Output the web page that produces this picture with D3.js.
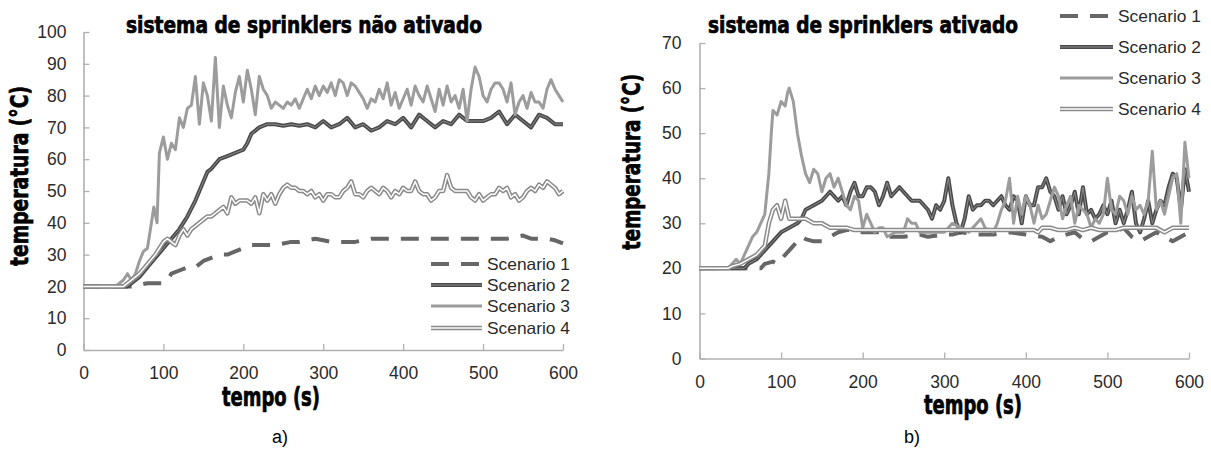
<!DOCTYPE html>
<html><head><meta charset="utf-8">
<script src="https://cdn.jsdelivr.net/npm/d3@7"></script>
<style>body{margin:0;background:#fff}</style>
</head><body>
<svg id="c" width="1211" height="450" xmlns="http://www.w3.org/2000/svg"></svg>
<script>
const xTicks = [0, 100, 200, 300, 400, 500, 600];
const yTicksA = [0, 10, 20, 30, 40, 50, 60, 70, 80, 90, 100];
const yTicksB = [0, 10, 20, 30, 40, 50, 60, 70];
const seriesNames = ["Scenario 1", "Scenario 2", "Scenario 3", "Scenario 4"];
const titleA = "sistema de sprinklers não ativado";
const titleB = "sistema de sprinklers ativado";
const yLabel = "temperatura (°C)";
const xLabel = "tempo (s)";
const panelLabels = ["a)", "b)"];

// Panel a) - sprinklers not activated: [time (s), temperature (°C)]
const a1 = [[0,20],[60,20],[70,20.5],[80,21],[100,21],[105,22],[110,24],[120,25],[130,26],[140,26],[150,28],[160,29],[170,30],[180,30],[190,31],[200,32],[210,33],[220,33],[230,33],[240,33],[250,33.5],[260,34],[270,34],[280,34.5],[290,35],[300,34.5],[310,34],[320,34],[330,34],[340,34],[350,34.5],[360,35],[400,35],[450,35],[500,35],[530,35],[540,35.5],[550,36],[560,35],[580,35],[590,34.5],[600,33.5]];
const a2 = [[0,20],[55,20],[60,21],[70,23],[80,26],[90,29],[100,32],[110,35],[120,38],[130,42],[140,47],[150,53],[155,56],[160,57],[170,60],[180,61],[190,62],[200,63],[205,65],[210,68],[220,70],[230,71],[240,71],[250,70.5],[260,71],[270,70.5],[280,71],[290,70],[300,72],[310,70],[320,71],[330,73],[340,70],[350,71],[360,69],[370,70],[380,72],[390,71],[400,73],[410,70],[420,74],[430,72],[440,70],[450,72],[460,71],[470,74],[480,72],[490,72],[500,72],[510,73],[520,75],[530,71],[540,74],[550,72],[560,70],[570,74],[580,73],[590,71],[600,71]];
const a3 = [[0,20],[40,20],[50,22],[55,24],[60,22],[65,24],[70,28],[75,31],[80,32],[85,40],[88,45],[92,40],[95,62],[100,67],[105,60],[110,65],[115,63],[120,73],[125,70],[130,76],[135,77],[140,86],[145,71],[150,84],[155,80],[160,72],[165,92],[170,70],[175,83],[180,77],[185,73],[190,81],[195,86],[200,78],[205,88],[210,82],[215,74],[220,86],[225,82],[230,80],[235,76],[240,78],[245,77],[250,76],[255,78],[260,77],[265,79],[270,76],[275,79],[280,82],[285,79],[290,83],[295,80],[300,83],[305,81],[310,84],[315,80],[320,85],[325,84],[330,80],[335,84],[340,83],[345,81],[350,79],[355,76],[360,79],[365,78],[370,82],[375,79],[380,84],[385,77],[390,81],[395,76],[400,79],[405,82],[410,77],[415,83],[420,80],[425,78],[430,83],[435,79],[440,75],[445,82],[450,77],[455,83],[460,78],[465,80],[470,76],[475,82],[480,72],[485,82],[490,89],[495,86],[500,80],[505,78],[510,82],[515,84],[520,84],[525,82],[530,78],[535,84],[540,74],[545,78],[550,80],[555,76],[560,81],[565,78],[570,78],[575,76],[580,82],[585,85],[590,82],[595,80],[600,78]];
const a4 = [[0,20],[50,20],[60,22],[70,24],[80,27],[90,30],[95,32],[100,34],[105,35],[110,34],[115,33],[120,36],[125,38],[130,36],[135,38],[140,39],[145,40],[150,41],[155,42],[160,42],[165,43],[170,44],[175,45],[180,43],[185,48],[190,46],[195,47],[200,47],[205,47],[210,46],[215,48],[220,43],[225,49],[230,47],[235,49],[240,46],[245,49],[250,51],[255,52],[260,51],[265,51],[270,50],[275,50],[280,49],[285,50],[290,48],[295,49],[300,47],[305,49],[310,49],[315,48],[320,48],[325,50],[330,51],[335,53],[340,49],[345,49],[350,48],[355,50],[360,51],[365,50],[370,49],[375,51],[380,50],[385,48],[390,50],[395,49],[400,51],[405,50],[410,50],[415,53],[420,50],[425,49],[430,49],[435,47],[440,48],[445,50],[450,50],[455,55],[460,51],[465,50],[470,50],[475,50],[480,50],[485,48],[490,47],[495,49],[500,47],[505,48],[510,49],[515,49],[520,51],[525,50],[530,51],[535,48],[540,49],[545,47],[550,48],[555,50],[560,51],[565,50],[570,52],[575,51],[580,53],[585,52],[590,51],[595,49],[600,50]];

// Panel b) - sprinklers activated
const b1 = [[0,20],[70,20],[75,20],[80,21],[90,21.5],[95,21],[100,22],[105,23],[110,24],[120,26],[125,27],[130,26.5],[140,26],[150,26],[160,27],[170,28],[180,28.5],[190,28.5],[200,28],[220,28],[230,27],[250,27],[270,27.5],[280,27],[300,27.5],[310,27.5],[320,28],[340,27.5],[360,27.5],[380,28],[400,27.5],[420,27],[430,26],[440,27],[460,28],[470,26.5],[480,26],[490,27],[500,28],[510,28],[520,29],[530,27],[540,26],[550,27],[560,28],[570,27],[580,26],[590,27],[600,28]];
const b2 = [[0,20],[55,20],[60,21],[70,22],[80,24],[90,26],[100,28],[110,29],[120,30],[125,31],[130,33],[140,34],[150,35],[155,36],[160,37],[165,36],[170,35],[175,36],[180,34],[185,37],[190,39],[195,36],[200,36],[205,38],[210,38],[215,37],[220,34],[225,36],[230,39],[235,36],[240,37],[245,38],[250,37],[255,36],[260,35],[265,35],[270,35],[275,34],[280,33],[285,31],[290,34],[295,33],[300,35],[305,40],[310,34],[315,30],[320,28],[325,31],[330,36],[335,33],[340,34],[345,34],[350,35],[355,35],[360,34],[365,35],[370,36],[375,34],[380,33],[385,36],[390,35],[395,30],[400,36],[405,34],[410,34],[415,38],[420,38],[425,40],[430,37],[435,36],[440,33],[445,36],[450,32],[455,34],[460,37],[465,32],[470,38],[475,32],[480,33],[485,31],[490,32],[495,34],[500,32],[505,35],[510,30],[515,33],[520,30],[525,33],[530,37],[535,30],[540,28],[545,31],[550,35],[555,30],[560,33],[565,35],[570,34],[575,38],[580,41],[585,40],[590,33],[595,42],[600,37]];
const b3 = [[0,20],[35,20],[40,21],[45,22],[50,21],[55,23],[60,25],[65,27],[70,28],[75,30],[80,32],[85,41],[88,50],[90,55],[95,54],[100,57],[105,56],[108,59],[110,60],[115,57],[120,50],[125,45],[130,41],[135,39],[140,42],[145,41],[150,37],[155,40],[160,41],[165,38],[170,40],[175,37],[180,34],[185,33],[190,36],[195,35],[200,29],[205,32],[210,30],[215,28],[220,29],[225,29],[230,27],[240,28],[250,28],[255,31],[260,30],[265,30],[270,28],[280,28],[300,28],[310,30],[320,29],[330,28],[340,30],[345,31],[350,29],[360,28],[365,30],[370,33],[375,35],[380,40],[385,30],[390,36],[395,32],[400,36],[405,34],[410,30],[415,34],[420,31],[425,32],[430,35],[435,38],[440,36],[445,31],[450,34],[455,36],[460,30],[465,34],[470,33],[475,32],[480,29],[485,31],[490,30],[495,32],[500,40],[505,33],[510,32],[515,36],[520,35],[525,32],[530,36],[535,33],[540,34],[545,32],[550,35],[555,46],[560,33],[565,35],[570,32],[575,36],[580,40],[585,41],[590,30],[595,48],[600,40]];
const b4 = [[0,20],[35,20],[40,20.5],[50,21],[60,22],[70,23],[80,25],[85,30],[90,33],[95,34],[100,31],[105,35],[110,31],[115,31],[120,31],[130,31],[140,30],[150,30],[160,29],[170,29],[180,29],[190,28.5],[200,28.5],[300,28.5],[410,28.5],[415,28],[420,29],[430,29],[440,28.5],[450,28.5],[460,29],[470,28.5],[480,29],[490,28.5],[510,28.5],[520,29],[560,29],[570,28],[580,29],[600,29]];

const styles = [
  [{c:"#666", w:4, d:"18,12"}],
  [{c:"#4a4a4a", w:4}, {c:"#8c8c8c", w:1}],
  [{c:"#9c9c9c", w:3}],
  [{c:"#8a8a8a", w:4.5}, {c:"#ffffff", w:1.5}]
];

const svg = d3.select("#c");
svg.append("rect").attr("width",1211).attr("height",450).attr("fill","#fff");
const boldFont = "'Liberation Sans Narrow','DejaVu Sans Condensed',Arial Narrow,sans-serif";
const regFont = "'Liberation Sans',Arial,sans-serif";

function heavy(sel) {
  return sel.attr("font-family", boldFont).attr("font-weight", "bold").attr("fill", "#000")
    .attr("stroke", "#000").attr("stroke-width", 0.7).attr("paint-order", "stroke");
}

function panel(cfg) {
  const x = d3.scaleLinear().domain([0, 600]).range([cfg.x0, cfg.x1]);
  const y = d3.scaleLinear().domain([0, cfg.ymax]).range([cfg.y0, cfg.y1]);
  const g = svg.append("g");

  const ax = g.append("g").attr("transform", `translate(0,${cfg.y0})`)
    .call(d3.axisBottom(x).tickValues(xTicks).tickSizeInner(-6).tickSizeOuter(0).tickPadding(cfg.xpad));
  const ay = g.append("g").attr("transform", `translate(${cfg.x0},0)`)
    .call(d3.axisLeft(y).tickValues(cfg.yTicks).tickSizeInner(-6).tickSizeOuter(0).tickPadding(cfg.ypad));
  [ax, ay].forEach(a => {
    a.select(".domain").attr("stroke", "#b0b0b0").attr("stroke-width", 1.6);
    a.selectAll(".tick line").attr("stroke", "#b0b0b0").attr("stroke-width", 1.3);
    a.selectAll(".tick text").attr("font-family", regFont).attr("font-size", 17.5).attr("fill", "#2a2a2a");
  });

  const line = d3.line().x(d => x(d[0])).y(d => y(d[1]));
  cfg.series.forEach((s, i) => {
    styles[i].forEach(st => {
      g.append("path").attr("d", line(s)).attr("fill", "none")
        .attr("stroke", st.c).attr("stroke-width", st.w)
        .attr("stroke-dasharray", st.d || null)
        .attr("stroke-linejoin", "round");
    });
  });

  // legend
  seriesNames.forEach((name, i) => {
    const ly = cfg.legY[i];
    styles[i].forEach(st => {
      g.append("line").attr("x1", cfg.legX0).attr("x2", cfg.legX1).attr("y1", ly).attr("y2", ly)
        .attr("stroke", st.c).attr("stroke-width", st.w).attr("stroke-dasharray", st.d || null);
    });
    g.append("text").attr("x", cfg.legX1 + 5).attr("y", ly).attr("dy", "0.36em")
      .attr("font-family", regFont).attr("font-size", 16.5).attr("fill", "#2a2a2a")
      .attr("textLength", 83).attr("lengthAdjust", "spacingAndGlyphs").text(name);
  });

  heavy(g.append("text").attr("x", cfg.tx0).attr("y", 33))
    .attr("font-size", 23)
    .attr("textLength", cfg.tx1 - cfg.tx0).attr("lengthAdjust", "spacingAndGlyphs").text(cfg.title);

  heavy(g.append("text").attr("transform", `translate(${cfg.ylx},${cfg.yly}) rotate(-90)`))
    .attr("text-anchor", "middle").attr("font-size", 24)
    .attr("textLength", cfg.ylLen).attr("lengthAdjust", "spacingAndGlyphs").text(yLabel);

  heavy(g.append("text").attr("x", cfg.xlx).attr("y", cfg.xly).attr("text-anchor", "middle"))
    .attr("font-size", 26)
    .attr("textLength", 98).attr("lengthAdjust", "spacingAndGlyphs").text(xLabel);

  g.append("text").attr("x", cfg.plx).attr("y", 443).attr("text-anchor", "middle")
    .attr("font-family", regFont).attr("font-size", 18).attr("fill", "#000").text(cfg.pl);
}

panel({
  x0: 83.5, x1: 563, y0: 350, y1: 32, ymax: 100, yTicks: yTicksA, xpad: 17, ypad: 17,
  series: [a1, a2, a3, a4],
  legX0: 431, legX1: 482, legY: [264, 285, 306, 328],
  title: titleA, tx0: 126, tx1: 482,
  ylx: 28, yly: 176, ylLen: 180,
  xlx: 271, xly: 406, plx: 280, pl: panelLabels[0]
});
panel({
  x0: 699.5, x1: 1189, y0: 358.5, y1: 43, ymax: 70, yTicks: yTicksB, xpad: 17, ypad: 18,
  series: [b1, b2, b3, b4],
  legX0: 1060, legX1: 1113, legY: [16, 47, 78, 109],
  title: titleB, tx0: 708, tx1: 1018,
  ylx: 640, yly: 162, ylLen: 176,
  xlx: 973, xly: 414, plx: 912, pl: panelLabels[1]
});
</script>
</body></html>
